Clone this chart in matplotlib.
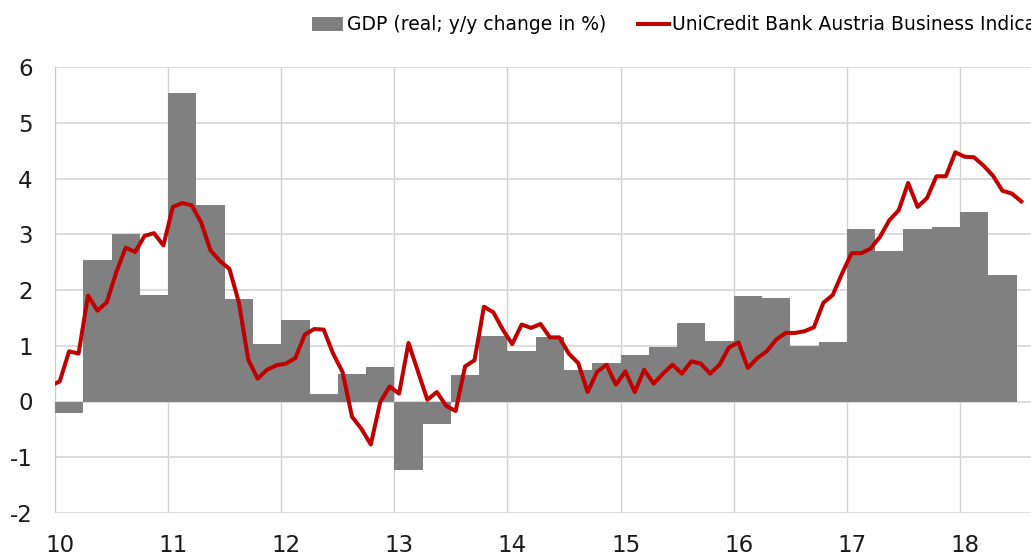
import numpy as np
import matplotlib
matplotlib.use('Agg')
import matplotlib.pyplot as plt
from matplotlib.transforms import ScaledTranslation

# quarterly GDP, real, y/y change in % (2009Q4 .. 2018Q2)
gdp_start = 2009.75
gdp = [-0.48,
	-0.21, 2.53, 3.00, 1.91,
	5.54, 3.53, 1.84, 1.04,
	1.47, 0.14, 0.49, 0.62,
	-1.23, -0.41, 0.48, 1.17,
	0.90, 1.15, 0.56, 0.69,
	0.84, 0.97, 1.41, 1.09,
	1.90, 1.85, 0.99, 1.06,
	3.09, 2.70, 3.10, 3.13,
	3.40, 2.27]

# monthly business indicator (Dec 2009 .. Jul 2018)
bi_start = 2009 + 11 / 12
bi = [0.28,
	0.36, 0.90, 0.86, 1.90, 1.63, 1.78, 2.32, 2.76, 2.68, 2.97, 3.02, 2.80,
	3.49, 3.56, 3.52, 3.21, 2.71, 2.52, 2.38, 1.78, 0.75, 0.41, 0.57, 0.65,
	0.68, 0.78, 1.20, 1.30, 1.29, 0.86, 0.53, -0.27, -0.49, -0.77, -0.01, 0.27,
	0.14, 1.05, 0.54, 0.03, 0.17, -0.08, -0.17, 0.63, 0.74, 1.70, 1.60, 1.29,
	1.03, 1.38, 1.32, 1.39, 1.15, 1.15, 0.86, 0.69, 0.17, 0.53, 0.66, 0.30,
	0.54, 0.17, 0.57, 0.32, 0.50, 0.66, 0.50, 0.72, 0.68, 0.50, 0.66, 0.97,
	1.06, 0.60, 0.78, 0.90, 1.11, 1.23, 1.23, 1.26, 1.33, 1.77, 1.91, 2.30,
	2.66, 2.66, 2.74, 2.95, 3.25, 3.43, 3.92, 3.49, 3.65, 4.04, 4.04, 4.47,
	4.39, 4.38, 4.23, 4.05, 3.78, 3.73, 3.59]

years = list(range(10, 19))
year_labels = [str(y) for y in years]

gdp_label = 'GDP (real; y/y change in %)'
bi_label = 'UniCredit Bank Austria Business Indicator'

plt.rcParams['font.family'] = ['DejaVu Sans']
plt.rcParams['axes.unicode_minus'] = False

fig = plt.figure(figsize=(10.31, 5.56), dpi=100)
ax = fig.add_axes([55 / 1031, 43 / 556, 976 / 1031, 446 / 556])

# x in "years since 2000"
gdp_x = np.array([gdp_start + 0.25 * i for i in range(len(gdp))]) - 2000
bi_x = np.array([bi_start + (i + 0.5) / 12 for i in range(len(bi))]) - 2000

bars = ax.bar(gdp_x, gdp, width=0.25, align='edge', color='#808080', linewidth=0, label=gdp_label, zorder=2)
line, = ax.plot(bi_x, bi, color='#c00000', lw=2.9, solid_joinstyle='round', label=bi_label, zorder=3)

ax.set_xlim(10, 10 + 976 / 113.125)
ax.set_ylim(-2, 6)
ax.set_yticks(range(-2, 7))
ax.set_xticks(years)
ax.set_xticklabels(year_labels)

ax.set_axisbelow(True)
ax.grid(axis='y', color='#d9d9d9', lw=1.3)
ax.grid(axis='x', color='#d0d0d0', lw=1.0)
for s in ax.spines.values():
	s.set_visible(False)
ax.axvline(10, color='#c8c8c8', lw=1.2, zorder=1)

ax.tick_params(length=0, labelsize=16.5, colors='#1a1a1a')
ax.tick_params(axis='y', pad=16)
ax.tick_params(axis='x', pad=15)
offset = ScaledTranslation(5 / 100, 0, fig.dpi_scale_trans)
for lab in ax.get_xticklabels():
	lab.set_transform(lab.get_transform() + offset)

# legend sits above the plot; the long label runs off the right edge as in the source
leg = fig.legend([bars, line], [gdp_label, bi_label], loc='center left',
	bbox_to_anchor=(312 / 1031, 1 - 25 / 556), ncol=2,
	frameon=False, borderpad=0, borderaxespad=0, handlelength=1.65, handleheight=0.85,
	handletextpad=0.2, columnspacing=1.7,
	prop={'family': ['Liberation Sans Narrow', 'DejaVu Sans Condensed'], 'size': 13.5})

fig.savefig('out.png', dpi=100)
